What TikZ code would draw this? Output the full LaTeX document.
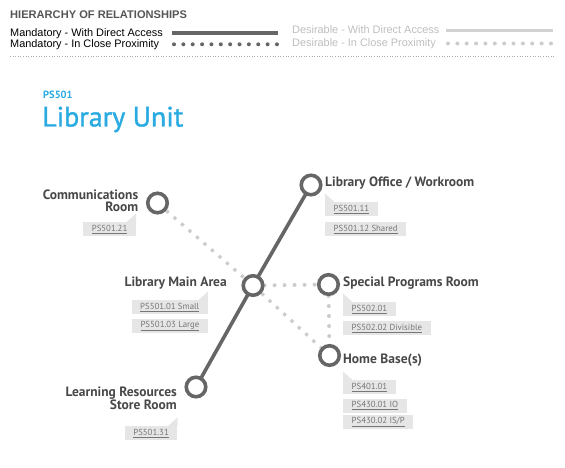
\documentclass[tikz,border=0pt]{standalone}
\usepackage{fontspec}
\setmainfont{Liberation Sans}
\newfontfamily\dinfont{PT Sans}
\newfontfamily\dinmed[FakeBold=1.2]{PT Sans}
\definecolor{ringgray}{RGB}{102,102,102}
\definecolor{labelgray}{RGB}{72,72,72}
\definecolor{dotgray}{RGB}{204,204,204}
\definecolor{tagfill}{RGB}{230,230,230}
\definecolor{tagtext}{RGB}{118,118,118}
\definecolor{titleblue}{RGB}{41,171,226}
\definecolor{headgray}{RGB}{85,85,85}
\definecolor{desgray}{RGB}{190,190,190}
\definecolor{desline}{RGB}{210,210,210}
\definecolor{sepgray}{RGB}{170,170,170}
\pgfdeclarelayer{background}
\pgfsetlayers{background,main}
\begin{document}
\begin{tikzpicture}[x=1pt,y=-1pt,
  room/.style={circle,draw=ringgray,line width=3.6pt,fill=white,minimum size=19.5pt,inner sep=0pt},
  roomlbl/.style={font=\dinfont\bfseries\fontsize{13.5}{11.5}\selectfont,text=labelgray,inner sep=0pt},
  tagbox/.style={fill=tagfill,text=tagtext,font=\dinfont\fontsize{8.8}{9}\selectfont,inner xsep=8.5pt,inner ysep=0pt,minimum height=14pt},
  legtext/.style={font=\fontsize{10.9}{12}\selectfont,inner sep=0pt},
  mandline/.style={draw=ringgray,line width=3.6pt},
  desline/.style={draw=desline,line width=3.6pt},
  rounddots/.style={draw=dotgray,line width=4pt,line cap=round,dash pattern=on 0pt off 10pt},
  squaredots/.style={draw=dotgray,line width=3.2pt,dash pattern=on 3.2pt off 6.7pt},
  legdots/.style={line width=4pt,line cap=round,dash pattern=on 0pt off 9.36pt}
]
\useasboundingbox (0,0) rectangle (565,468);

% ---------- legend ----------
\node[anchor=base west,inner sep=0pt,text=headgray,font=\bfseries\fontsize{11.1}{12}\selectfont] (head) at (10,18.7) {HIERARCHY OF RELATIONSHIPS};
\node[legtext,anchor=base west] (m1) at (10,36.3) {Mandatory - With Direct Access};
\node[legtext,anchor=base west] (m2) at (10,48) {Mandatory - In Close Proximity};
\node[legtext,anchor=base west,text=desgray] (d1) at (292,33.7) {Desirable - With Direct Access};
\node[legtext,anchor=base west,text=desgray] (d2) at (292,47) {Desirable - In Close Proximity};
\coordinate (m1a) at (172,33.3); \coordinate (m1b) at (278,33.3);
\coordinate (m2a) at (174,44.3); \coordinate (m2b) at (277.5,44.3);
\coordinate (d1a) at (446,30.7); \coordinate (d1b) at (553,30.7);
\coordinate (d2a) at (448,43.5); \coordinate (d2b) at (551.5,43.5);
\draw[mandline] (m1a) -- (m1b);
\draw[legdots,draw=ringgray] (m2a) -- (m2b);
\draw[desline] (d1a) -- (d1b);
\draw[legdots,draw=dotgray] (d2a) -- (d2b);
\coordinate (sepa) at (10,56.7); \coordinate (sepb) at (555,56.7);
\draw[sepgray,line width=0.7pt,dash pattern=on 1pt off 1.6pt] (sepa) -- (sepb);

% ---------- title ----------
\node[anchor=base west,inner sep=0pt,text=titleblue,font=\dinfont\bfseries\fontsize{10.5}{11}\selectfont] (code) at (43,98.5) {PS501};
\node[anchor=base west,inner sep=0pt,text=titleblue,font=\dinmed\fontsize{28}{30}\selectfont] (title) at (42,126.5) {Library Unit};

% ---------- rooms ----------
\node[room] (comm) at (157.5,203) {};
\node[room] (lo) at (311,185) {};
\node[room] (lma) at (253,285.5) {};
\node[room] (sp) at (328.5,284.5) {};
\node[room] (hb) at (329.5,355.5) {};
\node[room] (lr) at (196,387) {};

\begin{pgfonlayer}{background}
\draw[mandline] (lr.center) -- (lma.center) -- (lo.center);
\draw[squaredots] (comm) -- (lma);
\draw[squaredots] (lma) -- (hb);
\draw[rounddots] (lma) -- (sp);
\draw[rounddots] (sp) -- (hb);
\end{pgfonlayer}

% ---------- labels ----------
\node[roomlbl,anchor=base east,align=right,font=\dinfont\bfseries\fontsize{13.5}{12}\selectfont] (commlbl) at (138.5,211.5) {Communications\\Room};
\node[roomlbl,anchor=base east] (lmalbl) at (227,286.5) {Library Main Area};
\node[roomlbl,anchor=base west] (lolbl) at (325,186) {Library Office / Workroom};
\node[roomlbl,anchor=base west] (splbl) at (343,286) {Special Programs Room};
\node[roomlbl,anchor=base west] (hblbl) at (343,363) {Home Base(s)};
\node[roomlbl,anchor=base east,align=right,font=\dinfont\bfseries\fontsize{13.5}{12}\selectfont] (lrlbl) at (177,409.5) {Learning Resources\\Store Room};

% ---------- tags ----------
\node[tagbox,anchor=north east] (t21) at (136,222) {\underline{PS501.21}};
\fill[tagfill] (t21.north east) -- ++(0,-8.5) -- ++(-9.5,8.5) -- cycle;

\node[tagbox,anchor=north east] (t0101) at (208,300) {\underline{PS501.01 Small}};
\fill[tagfill] (t0101.north east) -- ++(0,-8.5) -- ++(-9.5,8.5) -- cycle;
\node[tagbox,anchor=north east] (t0103) at (208,319) {\underline{PS501.03 Large}};

\node[tagbox,anchor=north west] (t11) at (325,202) {\underline{PS501.11}};
\fill[tagfill] (t11.north west) -- ++(0,-8.5) -- ++(9.5,8.5) -- cycle;
\node[tagbox,anchor=north west] (t12) at (325,222) {\underline{PS501.12 Shared}};

\node[tagbox,anchor=north west] (t5201) at (343,302) {\underline{PS502.01}};
\fill[tagfill] (t5201.north west) -- ++(0,-8.5) -- ++(9.5,8.5) -- cycle;
\node[tagbox,anchor=north west] (t5202) at (343,321) {\underline{PS502.02 Divisible}};

\node[tagbox,anchor=north west] (t4101) at (343,380) {\underline{PS401.01}};
\fill[tagfill] (t4101.north west) -- ++(0,-8.5) -- ++(9.5,8.5) -- cycle;
\node[tagbox,anchor=north west] (t4301) at (343,398.5) {\underline{PS430.01 IO}};
\node[tagbox,anchor=north west] (t4302) at (343,415) {\underline{PS430.02 IS/P}};

\node[tagbox,anchor=north east] (t31) at (177.5,426) {\underline{PS501.31}};
\fill[tagfill] (t31.north east) -- ++(0,-8.5) -- ++(-9.5,8.5) -- cycle;
\end{tikzpicture}
\end{document}
